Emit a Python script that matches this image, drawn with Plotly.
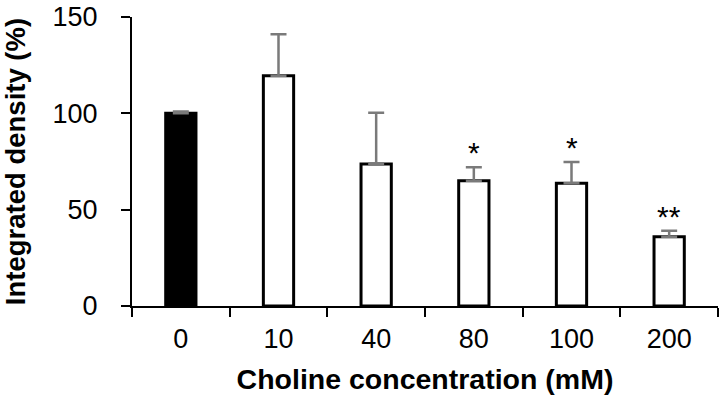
import plotly.graph_objects as go

categories = ["0", "10", "40", "80", "100", "200"]
values = [100, 119.5, 73.7, 65, 63.7, 36]
errors = [1, 21.6, 26.6, 7, 11, 3]
significance = ["", "", "", "*", "*", "**"]
fill_colors = ["black", "white", "white", "white", "white", "white"]

FONT = "Liberation Sans, Arial, sans-serif"

fig = go.Figure()
fig.add_trace(go.Bar(
    x=categories, y=values,
    marker=dict(color=fill_colors, line=dict(color="black", width=3)),
    error_y=dict(type="data", array=errors, arrayminus=[0] * len(errors),
                 symmetric=False, color="#7a7a7a", thickness=2.5, width=8),
    showlegend=False,
))

for i, (v, e, s) in enumerate(zip(values, errors, significance)):
    if s:
        fig.add_annotation(x=i, y=v + e, text=s, showarrow=False,
                           yanchor="bottom", yshift=-4,
                           font=dict(family=FONT, size=30, color="black"))

fig.update_layout(
    width=721, height=408,
    margin=dict(l=132, r=3, t=17, b=102),
    paper_bgcolor="white", plot_bgcolor="white",
    bargap=0.69,
    font=dict(family=FONT, color="black"),
)
fig.update_xaxes(
    type="category", tickson="boundaries",
    categoryorder="array", categoryarray=categories,
    range=[-0.5, len(categories) - 0.5], autorange=False,
    automargin=False,
    showline=True, linecolor="black", linewidth=2,
    ticks="outside", ticklen=9, tickwidth=2, tickcolor="black",
    tickfont=dict(family=FONT, size=27, color="black"),
    ticklabelstandoff=8, tickangle=0,
    showgrid=False,
    title=dict(text="<b>Choline concentration (mM)</b>",
               font=dict(family=FONT, size=28.5, color="black"), standoff=16),
)
fig.update_yaxes(
    range=[0, 150], tickvals=[0, 50, 100, 150],
    automargin=False,
    showline=True, linecolor="black", linewidth=2,
    ticks="outside", ticklen=9, tickwidth=2, tickcolor="black",
    tickfont=dict(family=FONT, size=27, color="black"),
    ticklabelstandoff=18,
    showgrid=False, zeroline=False,
    title=dict(text="<b>Integrated density (%)</b>",
               font=dict(family=FONT, size=27.5, color="black"), standoff=25),
)

fig.write_html("out.html")
